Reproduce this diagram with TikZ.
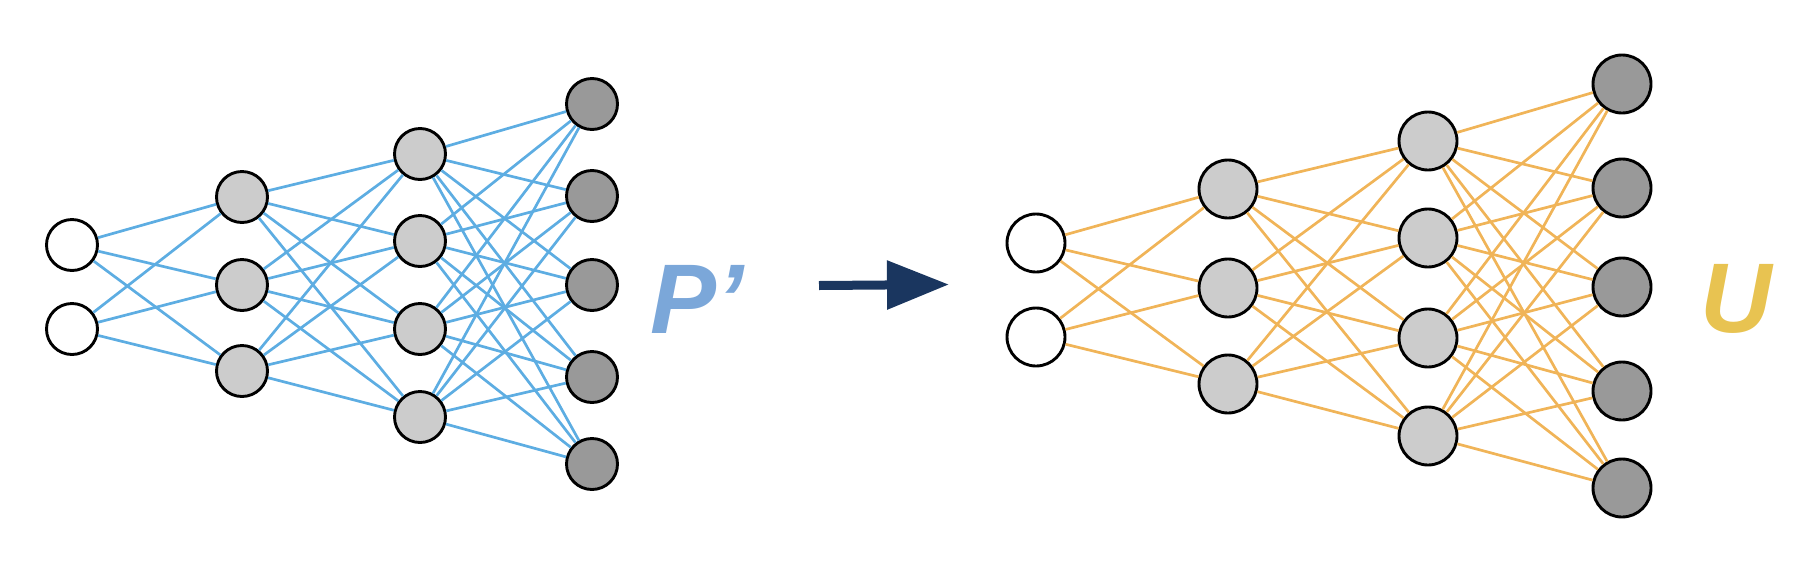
\documentclass[tikz,border=0pt]{standalone}
\usepackage{fontspec}
\setmainfont{Liberation Sans}
\usetikzlibrary{arrows.meta}
\definecolor{edgeblue}{HTML}{5DADE2}
\definecolor{edgeorange}{HTML}{F0B458}
\definecolor{labelblue}{HTML}{7BA7D9}
\definecolor{labelyellow}{HTML}{E8C351}
\definecolor{navy}{HTML}{1A365F}
\definecolor{hidgray}{HTML}{CCCCCC}
\definecolor{outgray}{HTML}{999999}
\tikzset{
  neuron/.style={circle, draw=black, line width=2.9pt, inner sep=0pt},
  inneuron/.style={neuron, fill=white},
  hidneuron/.style={neuron, fill=hidgray},
  outneuron/.style={neuron, fill=outgray},
  bluelink/.style={draw=edgeblue, line width=2.7pt},
  orangelink/.style={draw=edgeorange, line width=2.7pt},
  biglabel/.style={font=\fontsize{99}{99}\selectfont\bfseries\itshape, inner sep=0pt}
}
\begin{document}
\begin{tikzpicture}[x=1pt,y=-1pt]
\useasboundingbox (0,0) rectangle (1820,574);
% ---------- left network ----------
\begin{scope}[every node/.append style={minimum size=51pt}]
\foreach \y [count=\i] in {245,329} \node[inneuron] (a\i) at (72,\y) {};
\foreach \y [count=\i] in {197,285,371} \node[hidneuron] (b\i) at (242,\y) {};
\foreach \y [count=\i] in {154,241,329,417} \node[hidneuron] (c\i) at (420,\y) {};
\foreach \y [count=\i] in {104,196,285,377,464} \node[outneuron] (d\i) at (592,\y) {};
\end{scope}
\foreach \i in {1,2} \foreach \j in {1,2,3} \draw[bluelink] (a\i) -- (b\j);
\foreach \i in {1,2,3} \foreach \j in {1,...,4} \draw[bluelink] (b\i) -- (c\j);
\foreach \i in {1,...,4} \foreach \j in {1,...,5} \draw[bluelink] (c\i) -- (d\j);
% ---------- right network ----------
\begin{scope}[every node/.append style={minimum size=58pt}]
\foreach \y [count=\i] in {243,337} \node[inneuron] (e\i) at (1036,\y) {};
\foreach \y [count=\i] in {189,288,384} \node[hidneuron] (f\i) at (1228,\y) {};
\foreach \y [count=\i] in {141,238,338,436} \node[hidneuron] (g\i) at (1428,\y) {};
\foreach \y [count=\i] in {84,188,287,391,488} \node[outneuron] (h\i) at (1622,\y) {};
\end{scope}
\foreach \i in {1,2} \foreach \j in {1,2,3} \draw[orangelink] (e\i) -- (f\j);
\foreach \i in {1,2,3} \foreach \j in {1,...,4} \draw[orangelink] (f\i) -- (g\j);
\foreach \i in {1,...,4} \foreach \j in {1,...,5} \draw[orangelink] (g\i) -- (h\j);
% ---------- labels ----------
\node[biglabel, text=labelblue, anchor=base west] (pprime) at (650,333) {P’};
\node[biglabel, text=labelyellow, anchor=base] (ulabel) at (1736,332) {U};
% ---------- arrow ----------
\coordinate (arrs) at (819,285.5);
\coordinate (arre) at (949,284.5);
\draw[navy, line width=9pt, -{Triangle[length=62pt,width=47pt]}] (arrs) -- (arre);
\end{tikzpicture}
\end{document}
